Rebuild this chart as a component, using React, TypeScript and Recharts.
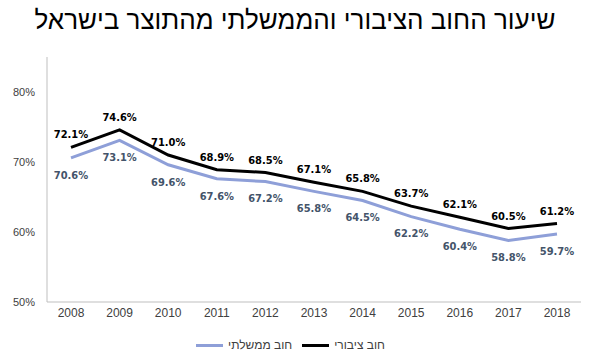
import React from 'react';
import { LineChart, Line, XAxis, YAxis, Legend, LabelList } from 'recharts';

const years = ['2008', '2009', '2010', '2011', '2012', '2013', '2014', '2015', '2016', '2017', '2018'];
const publicDebt = [72.1, 74.6, 71.0, 68.9, 68.5, 67.1, 65.8, 63.7, 62.1, 60.5, 61.2];
const govDebt = [70.6, 73.1, 69.6, 67.6, 67.2, 65.8, 64.5, 62.2, 60.4, 58.8, 59.7];
const yTicks = [50, 60, 70, 80];

const TITLE = 'שיעור החוב הציבורי והממשלתי מהתוצר בישראל';
const PUBLIC_NAME = 'חוב ציבורי';
const GOV_NAME = 'חוב ממשלתי';

const BLACK = '#000000';
const BLUE = '#8E9FD8';
const BLUE_LABEL = '#44546A';

const data = years.map((year, i) => ({
  year,
  publicDebt: publicDebt[i],
  govDebt: govDebt[i],
}));

const pct = (v: number) => `${v.toFixed(1)}%`;

const LegendContent = () => {
  const items = [
    { name: GOV_NAME, color: BLUE },
    { name: PUBLIC_NAME, color: BLACK },
  ];
  return (
    <div style={{ display: 'flex', justifyContent: 'center', gap: 10, fontFamily: 'Liberation Sans, Arial, sans-serif', fontSize: 12, color: '#404040', height: 16, alignItems: 'center' }}>
      {items.map((it) => (
        <div key={it.name} style={{ display: 'flex', alignItems: 'center', gap: 5 }}>
          <span style={{ display: 'inline-block', width: 27, height: 3, background: it.color }} />
          <span>{it.name}</span>
        </div>
      ))}
    </div>
  );
};

export default function App() {
  return (
    <div style={{ position: 'absolute', left: 0, top: 0, width: 590, height: 357, background: '#fff' }}>
      <div
        style={{
          position: 'absolute',
          left: 0,
          top: 5,
          width: 590,
          textAlign: 'center',
          fontFamily: 'Liberation Sans, Arial, sans-serif',
          fontSize: 26,
          color: '#000',
          direction: 'rtl',
        }}
      >
        {TITLE}
      </div>
      <LineChart width={590} height={357} data={data} margin={{ top: 57, right: 9, left: 0, bottom: 19 }}>
        <XAxis
          dataKey="year"
          axisLine={{ stroke: '#BFBFBF' }}
          tickLine={false}
          tick={{ fill: '#404040', fontSize: 12, fontFamily: 'Liberation Sans, Arial, sans-serif' }}
          tickMargin={0}
          height={20}
          padding={{ left: 24, right: 24 }}
        />
        <YAxis
          domain={[50, 85]}
          ticks={yTicks}
          tickFormatter={(v: number) => `${v}%`}
          axisLine={{ stroke: '#BFBFBF' }}
          tickLine={false}
          tick={{ fill: '#404040', fontSize: 11, fontFamily: 'Liberation Sans, Arial, sans-serif' }}
          tickMargin={6}
          width={47}
        />
        <Legend verticalAlign="bottom" content={<LegendContent />} wrapperStyle={{ bottom: 4 }} />
        <Line
          type="linear"
          dataKey="govDebt"
          name={GOV_NAME}
          stroke={BLUE}
          strokeWidth={3}
          dot={false}
          isAnimationActive={false}
        >
          <LabelList
            dataKey="govDebt"
            position="bottom"
            offset={13}
            formatter={pct}
            style={{ fill: BLUE_LABEL, fontSize: 11, fontWeight: 'bold', fontFamily: 'DejaVu Sans Condensed, DejaVu Sans, sans-serif' }}
          />
        </Line>
        <Line
          type="linear"
          dataKey="publicDebt"
          name={PUBLIC_NAME}
          stroke={BLACK}
          strokeWidth={3}
          dot={false}
          isAnimationActive={false}
        >
          <LabelList
            dataKey="publicDebt"
            position="top"
            offset={9}
            formatter={pct}
            style={{ fill: BLACK, fontSize: 11, fontWeight: 'bold', fontFamily: 'DejaVu Sans Condensed, DejaVu Sans, sans-serif' }}
          />
        </Line>
      </LineChart>
    </div>
  );
}
